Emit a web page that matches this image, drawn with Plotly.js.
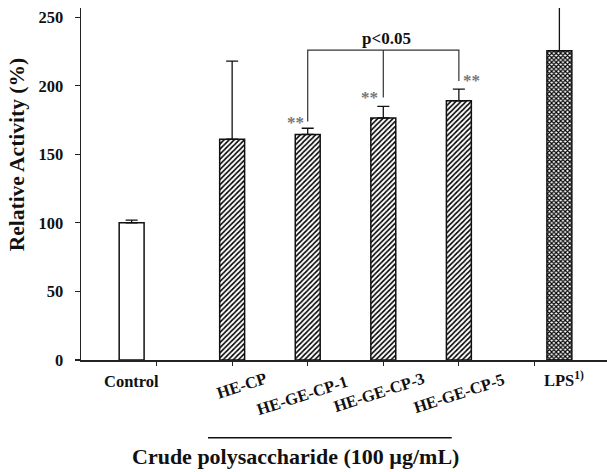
<!DOCTYPE html>
<html>
<head>
<meta charset="utf-8">
<script src="https://cdn.plot.ly/plotly-3.0.1.min.js"></script>
<style>html,body{margin:0;padding:0;background:#fff;}#chart{width:607px;height:472px;}</style>
</head>
<body>
<div id="chart"></div>
<script>
// ---- data ----
const categories = ['Control', 'HE-CP', 'HE-GE-CP-1', 'HE-GE-CP-3', 'HE-GE-CP-5', 'LPS<sup>1)</sup>'];
const activity = [100, 161, 164.5, 176.5, 189, 225.5];
const errorUp = [2, 57, 4.5, 8.5, 8.5, 40];
const sigLabel = 'p<0.05';
const sigTop = 226;
const sigLegBottom = [174, 191.5, 203.5];   // legs of the bracket above HE-GE-CP-1/3/5
const starLabel = '**';
const yTickVals = [0, 50, 100, 150, 200, 250];

// ---- layout helpers (positions / styles) ----
const xPos = [0.67, 2, 3, 4, 5, 6.33];
const FONT = 'Liberation Serif, Times New Roman, serif';

const bars = {
  type: 'bar',
  x: xPos,
  y: activity,
  width: 0.33,
  marker: {
    color: 'white',
    line: {color: '#111', width: 1.5},
    pattern: {
      shape: ['', '/', '/', '/', '/', 'x'],
      fgcolor: '#000',
      bgcolor: 'white',
      size: [4, 3.6, 3.6, 3.6, 3.6, 3.2],
      solidity: [0.3, 0.45, 0.45, 0.45, 0.45, 0.6]
    }
  },
  error_y: {
    type: 'data', symmetric: false,
    array: errorUp, arrayminus: activity.map(() => 0),
    color: '#111', thickness: 1.3, width: 6
  },
  hoverinfo: 'skip',
  showlegend: false
};

const bx = [xPos[2], xPos[3], xPos[4]];
const bracket = {
  type: 'scatter', mode: 'lines',
  x: [bx[0], bx[0], bx[2], bx[2], null, bx[1], bx[1]],
  y: [sigLegBottom[0], sigTop, sigTop, sigLegBottom[2], null, sigLegBottom[1], sigTop],
  line: {color: '#333', width: 1.2},
  hoverinfo: 'skip', showlegend: false
};

const annotations = [];
// x category labels
const labelCfg = [
  {dx: 0, y: -0.06, angle: 0},
  {dx: 0.13, y: -0.072, angle: -18},
  {dx: -0.07, y: -0.1, angle: -18},
  {dx: -0.06, y: -0.093, angle: -18},
  {dx: 0, y: -0.096, angle: -18},
  {dx: 0.06, y: -0.055, angle: 0}
];
categories.forEach((c, i) => {
  annotations.push({
    text: '<b>' + c + '</b>', xref: 'x', yref: 'paper',
    x: xPos[i] + labelCfg[i].dx, y: labelCfg[i].y,
    xanchor: 'center', yanchor: 'middle', showarrow: false,
    textangle: labelCfg[i].angle,
    font: {family: FONT, size: 16.5, color: '#111'}
  });
});
// significance stars
[[2, -0.16, -0.5], [3, -0.18, 0], [4, 0.17, 0]].forEach(([i, dx, dy], k) => {
  annotations.push({
    text: '<b>' + starLabel + '</b>', xref: 'x', yref: 'y',
    x: xPos[i] + dx, y: sigLegBottom[k] + dy,
    xanchor: 'center', yanchor: 'middle', showarrow: false,
    font: {family: FONT, size: 17, color: '#777'}
  });
});
// p-value label
annotations.push({
  text: '<b>' + sigLabel + '</b>', xref: 'x', yref: 'y',
  x: xPos[3] + 0.04, y: sigTop, xanchor: 'center', yanchor: 'bottom', showarrow: false,
  font: {family: FONT, size: 17, color: '#111'}
});
// axis titles
annotations.push({
  text: '<b>Crude polysaccharide (100 µg/mL)</b>', xref: 'paper', yref: 'paper',
  x: 0.407, y: -0.275, xanchor: 'center', yanchor: 'middle', showarrow: false,
  font: {family: FONT, size: 22, color: '#111'}
});
annotations.push({
  text: '<b>Relative Activity (%)</b>', xref: 'paper', yref: 'paper',
  x: -0.12, y: 0.584, xanchor: 'center', yanchor: 'middle', showarrow: false,
  textangle: -90,
  font: {family: FONT, size: 21.5, color: '#111'}
});

const layout = {
  width: 607, height: 472,
  margin: {l: 81, r: 0, t: 8, b: 112},
  paper_bgcolor: 'white', plot_bgcolor: 'white',
  showlegend: false,
  xaxis: {
    range: [0, 6.96], showgrid: false, zeroline: false,
    showline: true, linecolor: '#222', linewidth: 1.5,
    ticks: 'outside', ticklen: 4, tickcolor: '#222', tickwidth: 1.2,
    tickvals: [1, 2, 3, 4, 5, 6], showticklabels: false
  },
  yaxis: {
    range: [0, 256.7], showgrid: false, zeroline: false,
    showline: true, linecolor: '#222', linewidth: 1.5,
    ticks: 'outside', ticklen: 5, tickcolor: '#222', tickwidth: 1.2,
    tickvals: yTickVals, ticklabelstandoff: 8,
    tickfont: {family: FONT, size: 16.5, color: '#111', weight: 'bold'}
  },
  shapes: [{
    type: 'line', xref: 'paper', yref: 'paper',
    x0: 0.2414, x1: 0.7048, y0: -0.2207, y1: -0.2207,
    line: {color: '#111', width: 1.5}
  }],
  annotations: annotations
};

Plotly.newPlot('chart', [bars, bracket], layout, {displayModeBar: false, staticPlot: true});
</script>
</body>
</html>
